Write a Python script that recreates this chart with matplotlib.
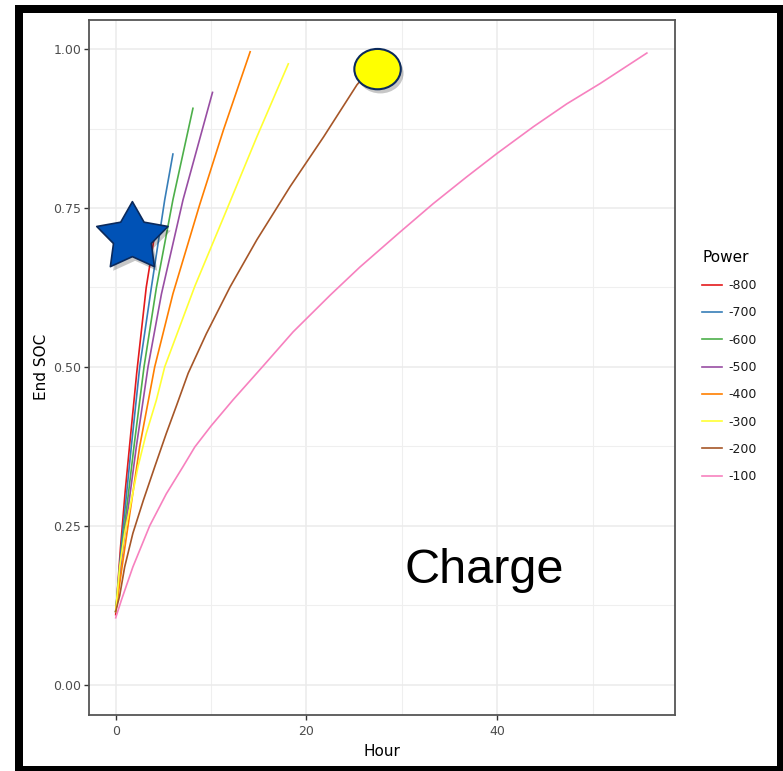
import matplotlib
matplotlib.use("Agg")
import numpy as np
import matplotlib.pyplot as plt
import matplotlib.patches as mpatches
import matplotlib.patheffects as pe
from matplotlib.path import Path
from matplotlib.ticker import MultipleLocator

# ---------------- data ----------------
powers = ["-800", "-700", "-600", "-500", "-400", "-300", "-200", "-100"]
colors = ["#E41A1C", "#377EB8", "#4DAF4A", "#984EA3", "#FF7F00", "#FFFF33", "#A65628", "#F781BF"]

hour_m800 = [0, 0.5, 1.0, 1.45, 2.2, 3.2, 4.0, 4.15]
soc_m800 = [0.11, 0.215, 0.305, 0.375, 0.49, 0.625, 0.70, 0.715]

hour_m700 = [0, 0.6, 1.64, 2.52, 3.74, 5.14, 6.0]
soc_m700 = [0.115, 0.22, 0.375, 0.5, 0.625, 0.763, 0.835]

hour_m600 = [0, 0.7, 1.92, 2.97, 4.27, 6.0, 8.1]
soc_m600 = [0.115, 0.22, 0.375, 0.5, 0.625, 0.763, 0.907]

hour_m500 = [0, 0.8, 2.17, 3.39, 4.8, 7.06, 10.15]
soc_m500 = [0.115, 0.22, 0.375, 0.5, 0.615, 0.763, 0.932]

hour_m400 = [0, 1.0, 2.52, 4.09, 6.0, 8.8, 11.3, 14.1]
soc_m400 = [0.115, 0.22, 0.375, 0.5, 0.615, 0.755, 0.873, 0.996]

hour_m300 = [0, 0.42, 0.94, 1.65, 2.34, 3.2, 4.27, 5.14, 8.3, 11.3, 14.8, 18.1]
soc_m300 = [0.115, 0.185, 0.238, 0.29, 0.343, 0.395, 0.448, 0.5, 0.627, 0.735, 0.862, 0.977]

hour_m200 = [0, 0.42, 0.94, 1.8, 2.9, 4.1, 5.3, 6.4, 7.6, 9.5, 12.0, 14.8, 18.3, 21.8, 25.3, 26.5]
soc_m200 = [0.115, 0.14, 0.185, 0.238, 0.29, 0.343, 0.395, 0.44, 0.49, 0.552, 0.626, 0.70,
            0.784, 0.862, 0.944, 0.965]

hour_m100 = [0, 0.6, 1.8, 3.57, 5.3, 7.06, 8.3, 10, 12.3, 15.5, 18.6, 22.5, 25.6, 29.8,
             33.3, 36.8, 39.9, 43.8, 47.3, 50.8, 55.7]
soc_m100 = [0.105, 0.133, 0.185, 0.25, 0.30, 0.343, 0.374, 0.407, 0.448, 0.502, 0.555, 0.613,
            0.657, 0.712, 0.757, 0.799, 0.835, 0.878, 0.914, 0.946, 0.994]

hours = [hour_m800, hour_m700, hour_m600, hour_m500, hour_m400, hour_m300, hour_m200, hour_m100]
socs = [soc_m800, soc_m700, soc_m600, soc_m500, soc_m400, soc_m300, soc_m200, soc_m100]

x_ticks = [0, 20, 40]
y_ticks = [0.00, 0.25, 0.50, 0.75, 1.00]
y_ticklabels = ["0.00", "0.25", "0.50", "0.75", "1.00"]

# ---------------- figure ----------------
W, H = 783, 771
fig = plt.figure(figsize=(W / 100, H / 100), dpi=100)
fig.patch.set_facecolor("white")

def fx(px):
    return px / W

def fy(py):
    return 1 - py / H

ax = fig.add_axes([fx(89), fy(715), fx(675) - fx(89), fy(20) - fy(715)])
ax.set_facecolor("white")

# grid
ax.xaxis.set_minor_locator(MultipleLocator(10))
ax.yaxis.set_minor_locator(MultipleLocator(0.125))
ax.grid(which="major", color="#EBEBEB", lw=1.1, zorder=0)
ax.grid(which="minor", color="#EFEFEF", lw=0.8, zorder=0)
ax.set_axisbelow(True)

for h, s, c, p in zip(hours, socs, colors, powers):
    ax.plot(h, s, color=c, lw=1.2, label=p, zorder=2, solid_joinstyle="round")

ax.set_xlim(-2.8, 58.65)
ax.set_ylim(-0.048, 1.046)
ax.set_xticks(x_ticks)
ax.set_xticklabels([str(t) for t in x_ticks])
ax.set_yticks(y_ticks)
ax.set_yticklabels(y_ticklabels)
ax.tick_params(which="major", length=3.5, width=1.0, color="#333333",
               labelsize=9, labelcolor="#4D4D4D", pad=2)
ax.tick_params(which="minor", length=0)
ax.tick_params(axis="x", pad=4)

for sp in ax.spines.values():
    sp.set_color("#555555")
    sp.set_linewidth(1.3)

fig.text(fx(41), fy(367), "End SOC", rotation=90, ha="center", va="center",
         fontsize=11, color="black")
fig.text(fx(382), fy(752), "Hour", ha="center", va="center", fontsize=11, color="black")

# legend
leg = ax.legend(title="Power", loc="upper left", bbox_to_anchor=(fx(702), fy(250)),
                bbox_transform=fig.transFigure, frameon=False, fontsize=9,
                title_fontproperties={"size": 11}, handlelength=1.6,
                handletextpad=0.5, labelspacing=1.14, borderpad=0, borderaxespad=0,
                alignment="left")
for t in leg.get_texts():
    t.set_color("#1A1A1A")

# ---- annotation shapes (PowerPoint-like star and ellipse) ----
sx, sy, k = 37.48, 35.93, 0.53
star_verts = []
for i in range(5):
    a_out = np.deg2rad(90 + 72 * i)
    a_in = np.deg2rad(90 + 36 + 72 * i)
    star_verts.append((sx * np.cos(a_out), sy * np.sin(a_out)))
    star_verts.append((k * sx * np.cos(a_in), k * sy * np.sin(a_in)))
star_verts.append(star_verts[0])
star_path = Path(star_verts, closed=True)
star_ms = 2 * sy * 0.72

shadow = [pe.SimplePatchShadow(offset=(2, -3), shadow_rgbFace="black", alpha=0.22), pe.Normal()]

ax.plot([1.75], [0.7035], marker=star_path, markersize=star_ms, markerfacecolor="#0052B6",
        markeredgecolor="#0B2A5C", markeredgewidth=1.2, linestyle="none", zorder=5,
        path_effects=shadow)

ell = mpatches.Ellipse((27.46, 0.9687), width=4.87, height=0.0635, facecolor="#FFFF00",
                       edgecolor="#0B2A5C", lw=1.5, zorder=5, path_effects=shadow)
ax.add_patch(ell)

ax.text(30.3, 0.1595, "Charge", fontsize=35, family="Liberation Sans",
        ha="left", va="baseline", color="black", zorder=6)

# thick black frame around the picture
frame_kw = dict(transform=fig.transFigure, facecolor="black", edgecolor="none")
fig.add_artist(mpatches.Rectangle((fx(15), fy(771)), fx(23) - fx(15), fy(5) - fy(771), **frame_kw))
fig.add_artist(mpatches.Rectangle((fx(15), fy(12.5)), fx(783) - fx(15), fy(5) - fy(12.5), **frame_kw))
fig.add_artist(mpatches.Rectangle((fx(777), fy(771)), fx(783) - fx(777), fy(5) - fy(771), **frame_kw))
fig.add_artist(mpatches.Rectangle((fx(15), fy(771)), fx(783) - fx(15), fy(766) - fy(771), **frame_kw))

fig.savefig("out.png", dpi=100)
